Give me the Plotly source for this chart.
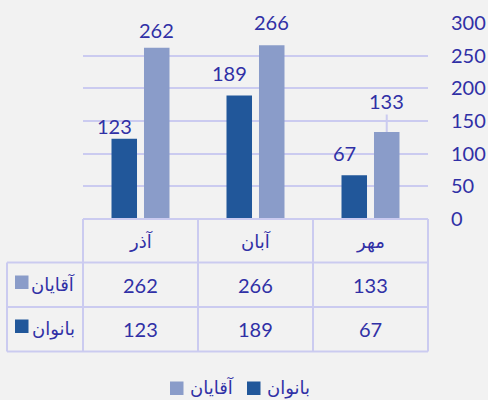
import plotly.graph_objects as go

# ---- data ----
categories = ["آذر", "آبان", "مهر"]
women_name = "بانوان"
men_name = "آقایان"
women = [123, 189, 67]
men = [262, 266, 133]
y_ticks = [0, 50, 100, 150, 200, 250, 300]

# ---- style ----
DARK = "#21579A"
LIGHT = "#8A9CC9"
TXT = "#3030A6"
GRID = "#CBCBF0"
BG = "#F2F2F2"
FONT = "Lato, 'DejaVu Sans', sans-serif"
NUM_SIZE = 20
FA_SIZE = 18

W, H = 488, 400
L, R, T, B = 83, 428, 23, 219


def px(x):
    return (x - L) / (R - L)


def py(y):
    return (B - y) / (B - T)


BARGAP = 0.435
off = (1 - BARGAP) / 4

fig = go.Figure()
fig.add_trace(go.Bar(x=categories, y=women, name=women_name, marker_color=DARK,
                     marker_line_width=0, showlegend=False, hoverinfo="skip"))
fig.add_trace(go.Bar(x=categories, y=men, name=men_name, marker_color=LIGHT,
                     marker_line_width=0, showlegend=False, hoverinfo="skip"))

# data labels (pixel lifts above bar top)
women_lift = [13, 23, 22.5]
men_lift = [18, 23, 31]
for i in range(len(categories)):
    fig.add_annotation(x=i - off, y=women[i], xref="x", yref="y", text=str(women[i]),
                       showarrow=True, ax=-10, ay=-women_lift[i], arrowcolor="rgba(0,0,0,0)",
                       xanchor="center", yanchor="middle",
                       font=dict(family=FONT, size=NUM_SIZE, color=TXT))
    fig.add_annotation(x=i + off, y=men[i], xref="x", yref="y", text=str(men[i]),
                       showarrow=True, ax=0, ay=-men_lift[i], arrowhead=0,
                       arrowcolor=GRID if men_lift[i] > 25 else "rgba(0,0,0,0)", arrowwidth=2,
                       xanchor="center", yanchor="middle",
                       font=dict(family=FONT, size=NUM_SIZE, color=TXT))

# ---- data table ----
shapes = []
line = dict(color=GRID, width=2)
rows_y = [219, 262.5, 307, 351.5]
shapes.append(dict(type="line", xref="paper", yref="paper", x0=0, x1=1,
                   y0=py(rows_y[0]), y1=py(rows_y[0]), line=line))
for yy in rows_y[1:]:
    shapes.append(dict(type="line", xref="paper", yref="paper", x0=px(7), x1=1,
                       y0=py(yy), y1=py(yy), line=line))
shapes.append(dict(type="line", xref="paper", yref="paper", x0=px(7), x1=px(7),
                   y0=py(rows_y[1]), y1=py(rows_y[3]), line=line))
for i in range(len(categories) + 1):
    shapes.append(dict(type="line", xref="paper", yref="paper",
                       x0=i / len(categories), x1=i / len(categories),
                       y0=py(rows_y[0]), y1=py(rows_y[3]), line=line))

row_defs = [(men_name, men, LIGHT, 285), (women_name, women, DARK, 329)]
for i, c in enumerate(categories):
    fig.add_annotation(x=(i + 0.5) / len(categories), y=py(241), xref="paper", yref="paper",
                       text=c, showarrow=False, xanchor="center", yanchor="middle",
                       font=dict(family=FONT, size=FA_SIZE, color=TXT))
for name, vals, col, cy in row_defs:
    for i, v in enumerate(vals):
        fig.add_annotation(x=(i + 0.5) / len(categories), y=py(cy), xref="paper", yref="paper",
                           text=str(v), showarrow=False, xanchor="center", yanchor="middle",
                           font=dict(family=FONT, size=NUM_SIZE, color=TXT))
    shapes.append(dict(type="rect", xref="paper", yref="paper", x0=px(15), x1=px(28.5),
                       y0=py(cy + 4), y1=py(cy - 9.5), fillcolor=col, line_width=0))
    fig.add_annotation(x=px(77), y=py(cy - 1), xref="paper", yref="paper", text=name,
                       xanchor="right", yanchor="middle", showarrow=False,
                       font=dict(family=FONT, size=FA_SIZE, color=TXT))

# ---- legend (manual) ----
legend_items = [(men_name, LIGHT, 170), (women_name, DARK, 247)]
for name, col, x0 in legend_items:
    shapes.append(dict(type="rect", xref="paper", yref="paper", x0=px(x0), x1=px(x0 + 13.5),
                       y0=py(395), y1=py(381.5), fillcolor=col, line_width=0))
    fig.add_annotation(x=px(x0 + 18), y=py(387), xref="paper", yref="paper", text=name,
                       xanchor="left", yanchor="middle", showarrow=False,
                       font=dict(family=FONT, size=FA_SIZE, color=TXT))

fig.update_layout(
    width=W, height=H,
    margin=dict(l=L, r=W - R, t=T, b=H - B, pad=0, autoexpand=False),
    paper_bgcolor=BG, plot_bgcolor=BG,
    barmode="group", bargap=BARGAP, bargroupgap=0.215,
    shapes=shapes,
    font=dict(family=FONT, size=NUM_SIZE, color=TXT),
    xaxis=dict(showticklabels=False, showgrid=False, zeroline=False, showline=False,
               fixedrange=True, automargin=False),
    yaxis=dict(side="right", range=[0, 300], tickvals=y_ticks, showgrid=True,
               gridcolor=GRID, gridwidth=2, zeroline=False, showline=False,
               ticks="", ticklabelstandoff=22, automargin=False, fixedrange=True,
               tickfont=dict(family=FONT, size=NUM_SIZE, color=TXT)),
)

fig.write_html("out.html", config={"displayModeBar": False},
               post_script="document.body.style.margin='0px';document.body.style.overflow='hidden';")
